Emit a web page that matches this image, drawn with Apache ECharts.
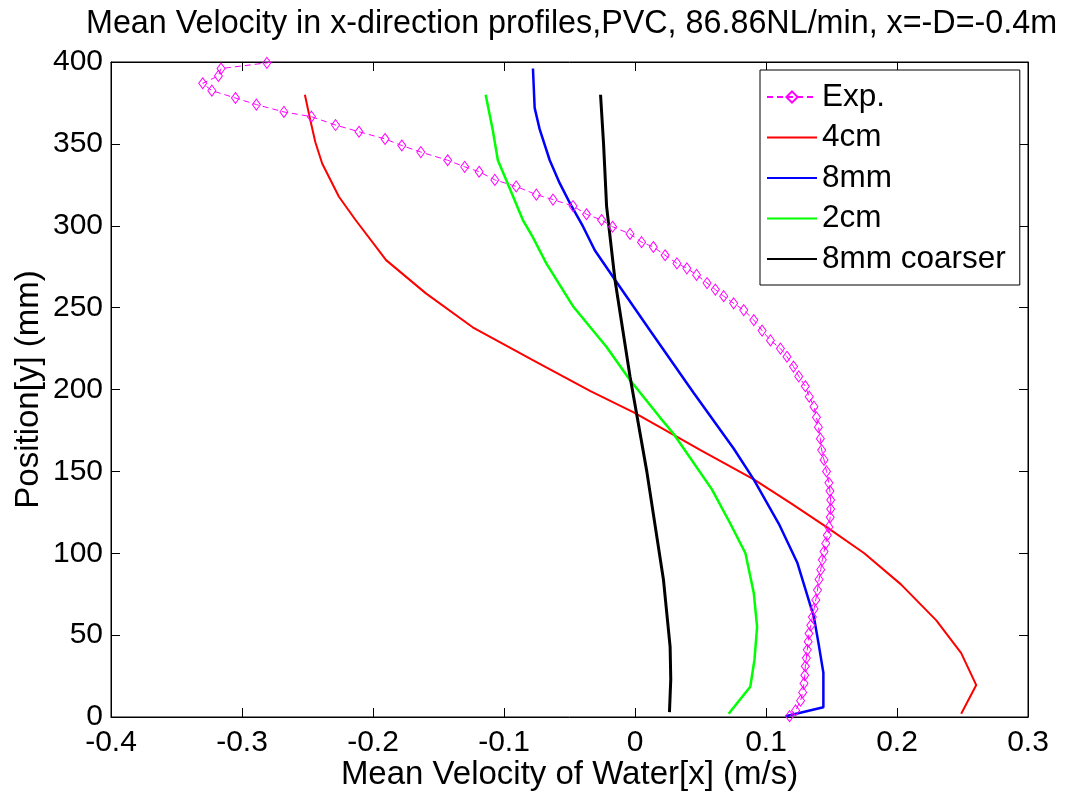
<!DOCTYPE html>
<html>
<head>
<meta charset="utf-8">
<script src="https://cdn.jsdelivr.net/npm/echarts@6/dist/echarts.min.js"></script>
<style>
html,body{margin:0;padding:0;background:#fff;}
#chart{width:1067px;height:792px;}
</style>
</head>
<body>
<div id="chart"></div>
<script>
// ---- data (x = velocity m/s, y = position mm) ----
const titleText = 'Mean Velocity in x-direction profiles,PVC, 86.86NL/min, x=-D=-0.4m';
const xAxisName = 'Mean Velocity of Water[x] (m/s)';
const yAxisName = 'Position[y] (mm)';
const seriesNames = ['Exp.', '4cm', '8mm', '2cm', '8mm coarser'];

const expData = [
  [0.118,0.5],[0.1226,4],[0.1264,10],[0.128,15],[0.129,20.5],[0.1296,25.5],[0.130,31],[0.1308,36],
  [0.1315,41],[0.1322,46],[0.1328,51],[0.1342,56],[0.1354,61],[0.1367,66],[0.138,71.5],[0.1393,77.5],
  [0.1405,84],[0.1418,90],[0.143,96],[0.1443,101],[0.1456,106],[0.1468,111],[0.148,116],[0.149,122],
  [0.1494,127],[0.1494,132.5],[0.1488,138],[0.148,143],[0.1462,150],[0.1443,157],[0.1425,163],
  [0.1415,170],[0.140,177],[0.1385,183],[0.1366,189.5],[0.133,195.6],[0.130,202],[0.125,208],
  [0.121,214],[0.116,220],[0.111,225],[0.1034,230],[0.097,236],[0.0907,242.4],[0.083,248.5],
  [0.0753,252.6],[0.0677,257],[0.0613,261],[0.055,265],[0.047,270],[0.0396,274],[0.032,277],
  [0.023,282],[0.014,287],[0.005,290],[-0.0038,295],[-0.0171,299.4],[-0.0255,303.5],[-0.037,307],
  [-0.0473,312],[-0.0626,316],[-0.0753,319],[-0.0907,324],[-0.107,328],[-0.119,333],[-0.130,336],
  [-0.143,340],[-0.1635,345],[-0.178,349],[-0.1908,353],[-0.2107,357.4],[-0.2286,361.5],[-0.247,366.6],
  [-0.268,369.5],[-0.289,374],[-0.305,378],[-0.323,382.5],[-0.330,387],[-0.318,391.5],[-0.316,396],
  [-0.281,399.5],[-0.25,404]
];
const cm4Data = [
  [-0.252,380],[-0.248,365],[-0.244,351],[-0.2388,338],[-0.226,317.7],[-0.2133,303.5],[-0.190,279],
  [-0.1596,258.7],[-0.1239,238],[-0.078,218],[-0.034,199],[-0.001,186],[0.019,177],
  [0.050,163],[0.091,145],[0.120,130],[0.148,115],[0.175,100],[0.203,81],[0.230,59],[0.249,39],
  [0.2605,19.5],[0.249,2]
];
const mm8Data = [
  [-0.0779,396],[-0.0766,372],[-0.0728,359],[-0.0651,340],[-0.0575,326],[-0.0498,314],[-0.0396,299.4],
  [-0.0307,285],[-0.0153,267],[0.0115,236],[0.0447,198],[0.0753,164],[0.0907,145],[0.1098,118],
  [0.124,94],[0.1366,61],[0.1405,43],[0.1438,27],[0.1438,6],[0.115,0.5]
];
const cm2Data = [
  [-0.114,380],[-0.1086,358.5],[-0.1047,340],[-0.0983,328],[-0.0856,303.5],[-0.078,293],[-0.0677,277],
  [-0.047,250.5],[-0.0217,226],[-0.004,206],[0.019,183],[0.0294,173],[0.0587,139],[0.0728,118],
  [0.0843,100],[0.0907,75.5],[0.0932,55],[0.0912,35],[0.088,18.5],[0.0715,2]
];
const mm8CoarserData = [
  [-0.0263,380],[-0.024,350],[-0.0217,312],[-0.0153,267],[-0.0038,208],[0.009,150],[0.0217,84],
  [0.0268,43],[0.0273,23],[0.0263,3]
];

const FONT = 'Liberation Sans, Arial, Helvetica, sans-serif';
const chart = echarts.init(document.getElementById('chart'), null, {renderer: 'canvas'});

const axisCommon = {
  axisLine: {show: true, onZero: false, lineStyle: {color: '#000', width: 1}},
  axisTick: {show: true, inside: true, length: 9, lineStyle: {color: '#000', width: 1}},
  splitLine: {show: false}
};
// thin horizontal bar icon whose bounding box spans the whole 50x14 legend item
const lineIcon = 'path://M0,0L0,0.01Z M0,6L50,6L50,8L0,8Z M50,14L50,13.99Z';

const option = {
  backgroundColor: '#fff',
  animation: false,
  textStyle: {fontFamily: FONT},
  title: {
    text: titleText,
    left: 81,
    top: 3,
    textStyle: {fontFamily: FONT, fontSize: 32.3, fontWeight: 'normal', color: '#000'}
  },
  grid: {left: 111, right: 39, top: 62, bottom: 75, containLabel: false, outerBoundsMode: 'none',
         show: true, borderColor: '#000', borderWidth: 1},
  legend: {
    orient: 'vertical',
    left: 760,
    top: 70,
    data: [
      {name: seriesNames[0]},
      {name: seriesNames[1], icon: lineIcon},
      {name: seriesNames[2], icon: lineIcon},
      {name: seriesNames[3], icon: lineIcon},
      {name: seriesNames[4], icon: lineIcon}
    ],
    itemWidth: 50,
    itemHeight: 14,
    itemGap: 8.5,
    padding: [11, 14, 10, 6],
    backgroundColor: '#fff',
    borderColor: '#000',
    borderWidth: 1,
    borderRadius: 0,
    textStyle: {fontFamily: FONT, fontSize: 31.5, color: '#000', padding: [0,0,0,0]}
  },
  xAxis: [
    Object.assign({}, axisCommon, {
      type: 'value', min: -0.4, max: 0.3, interval: 0.1, position: 'bottom',
      name: xAxisName, nameLocation: 'middle', nameGap: 41, nameMoveOverlap: false,
      nameTextStyle: {fontFamily: FONT, fontSize: 33, color: '#000'},
      axisLabel: {fontFamily: FONT, fontSize: 30, color: '#000', margin: 11}
    }),
    Object.assign({}, axisCommon, {
      type: 'value', min: -0.4, max: 0.3, interval: 0.1, position: 'top',
      axisLabel: {show: false}
    })
  ],
  yAxis: [
    Object.assign({}, axisCommon, {
      type: 'value', min: 0, max: 400, interval: 50, position: 'left',
      name: yAxisName, nameLocation: 'middle', nameGap: 66, nameMoveOverlap: false,
      nameTextStyle: {fontFamily: FONT, fontSize: 33, color: '#000'},
      axisLabel: {fontFamily: FONT, fontSize: 30, color: '#000', margin: 8}
    }),
    Object.assign({}, axisCommon, {
      type: 'value', min: 0, max: 400, interval: 50, position: 'right',
      axisLabel: {show: false}
    })
  ],
  series: [
    {
      name: seriesNames[0], type: 'line', data: expData,
      xAxisIndex: 0, yAxisIndex: 0,
      symbol: 'diamond', symbolSize: [8, 11], showAllSymbol: true,
      lineStyle: {color: '#ff00ff', width: 1, type: [6, 4]},
      itemStyle: {color: 'rgba(255,255,255,0)', borderColor: '#ff00ff', borderWidth: 1},
      z: 5
    },
    {
      name: seriesNames[1], type: 'line', data: cm4Data, showSymbol: false,
      lineStyle: {color: '#ff0000', width: 2}, itemStyle: {color: '#ff0000'}
    },
    {
      name: seriesNames[2], type: 'line', data: mm8Data, showSymbol: false,
      lineStyle: {color: '#0000ff', width: 2.5}, itemStyle: {color: '#0000ff'}
    },
    {
      name: seriesNames[3], type: 'line', data: cm2Data, showSymbol: false,
      lineStyle: {color: '#00ff00', width: 2.5}, itemStyle: {color: '#00ff00'}
    },
    {
      name: seriesNames[4], type: 'line', data: mm8CoarserData, showSymbol: false,
      lineStyle: {color: '#000000', width: 3}, itemStyle: {color: '#000000'}
    }
  ]
};
chart.setOption(option);
</script>
</body>
</html>
